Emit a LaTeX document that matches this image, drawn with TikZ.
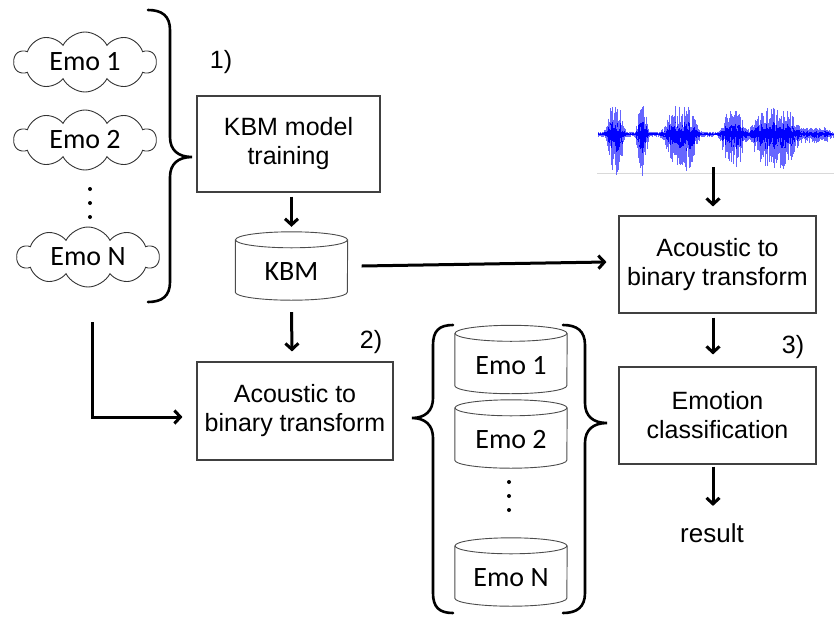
\documentclass[tikz,border=0pt]{standalone}
\usepackage{fontspec}
\setmainfont{Liberation Sans}
\newfontfamily\calib{Carlito}
\usetikzlibrary{arrows.meta,shapes.symbols,calc}

% outline of a database cylinder drawn around a named rectangular node
\newcommand\cylout[1]{%
  \draw[cylline] ($(#1.north west)+(0pt,-8pt)$) -- ($(#1.south west)+(0pt,8pt)$)
    arc[start angle=180, end angle=360, x radius=56pt, y radius=8pt]
    -- ($(#1.north east)+(0pt,-8pt)$);
  \draw[cylline] ($(#1.north)+(0pt,-8pt)$) ellipse[x radius=56pt, y radius=8pt];}

\begin{document}
\begin{tikzpicture}[x=1pt,y=-1pt,
  declare function={bump(\x,\c,\w)=exp(-min(pow(min(abs(\x-\c)/\w,2),4),9));},
  txt/.style={font=\fontsize{25}{29}\selectfont},
  box/.style={txt, draw=black!75, line width=1.1pt, align=center, inner sep=0pt},
  emocloud/.style={cloud, cloud puffs=10, cloud puff arc=125, cloud ignores aspect,
    draw=black!80, line width=0.9pt, minimum width=142pt, minimum height=60pt,
    font=\calib\fontsize{28}{32}\selectfont, inner sep=0pt},
  cylbody/.style={rectangle, minimum width=112pt, minimum height=68pt, inner sep=0pt},
  cylline/.style={draw=black!70, line width=0.9pt},
  cyltext/.style={font=\calib\fontsize{28}{32}\selectfont},
  arr/.style={line width=3pt, -{Straight Barb[length=6pt,width=13pt]}},
  bracket/.style={line width=2.6pt, line cap=round},
  wavelight/.style={draw=blue!60, line width=0.6pt},
  wavecore/.style={draw=blue, line width=0.7pt}]
\useasboundingbox (0,0) rectangle (834,616);

% ---------- emotion clouds ----------
\node[emocloud] (c1) at (85,62) {Emo 1};
\node[emocloud] (c2) at (85,140) {Emo 2};
\node[emocloud] (cN) at (88,257) {Emo N};
\foreach \yy in {189,203,217} \fill (90,\yy) circle[radius=2pt];

% brace gathering the clouds
\draw[bracket] (148,10) .. controls (162,10) and (170,16) .. (170,30) -- (170,137)
  .. controls (170,150) and (178,157) .. (192,157)
  .. controls (178,157) and (170,164) .. (170,177) -- (170,282)
  .. controls (170,296) and (162,302) .. (148,302);

% ---------- step 1 ----------
\node[txt] (n1) at (221,62) {1)};
\node[box, minimum width=183pt, minimum height=96pt] (train) at (288.5,144) {KBM model\\training};
\node[cylbody] (kbm) at (291.5,266) {};
\cylout{kbm}
\node[cyltext] at ($(kbm.center)+(0pt,-6pt)$) {KBM};

% ---------- step 2 ----------
\node[txt] (n2) at (371,342) {2)};
\node[box, minimum width=196pt, minimum height=98pt] (lacou) at (295,411) {Acoustic to\\binary transform};

\node[cylbody] (e1) at (511,359.5) {};
\cylout{e1}
\node[cyltext] at ($(e1.center)+(0pt,-6pt)$) {Emo 1};
\node[cylbody] (e2) at (511,434) {};
\cylout{e2}
\node[cyltext] at ($(e2.center)+(0pt,-6pt)$) {Emo 2};
\foreach \yy in {482,496,510} \fill (509,\yy) circle[radius=2pt];
\node[cylbody] (eN) at (511,572) {};
\cylout{eN}
\node[cyltext] at ($(eN.center)+(0pt,-6pt)$) {Emo N};

% braces around the emotion models
\draw[bracket] (453,325) .. controls (439,325) and (433,331) .. (433,345) -- (433,398)
  .. controls (433,411) and (425,418) .. (412,418)
  .. controls (425,418) and (433,425) .. (433,438) -- (433,593)
  .. controls (433,607) and (439,613) .. (453,613);
\draw[bracket] (563,325) .. controls (577,325) and (585,331) .. (585,345) -- (585,403)
  .. controls (585,416) and (593,423) .. (607,423)
  .. controls (593,423) and (585,430) .. (585,443) -- (585,593)
  .. controls (585,607) and (577,613) .. (563,613);

% ---------- step 3 ----------
% speech waveform
\draw[black!15, line width=0.6pt] (597,173) -- (834,173);
\pgfmathsetseed{11}
\foreach \i in {0,...,472} {
  \pgfmathsetmacro\xx{598+\i*0.5}
  \pgfmathsetmacro\env{2.5+30*bump(\xx,615,8)+29*bump(\xx,642,5)+26*bump(\xx,681,15)
     +22*bump(\xx,733,11)+24*bump(\xx,775,22)+5*bump(\xx,816,14)}
  \pgfmathsetmacro\up{\env*(0.2+0.8*rnd)}
  \pgfmathsetmacro\dn{\env*1.35*(0.2+0.8*rnd)}
  \draw[wavelight] (\xx,134-\up) -- (\xx,134+\dn);
  \draw[wavecore] (\xx,134-0.45*\up) -- (\xx,134+0.45*\dn);
}
\draw[blue, line width=0.9pt] (598,134) -- (834,134);
\coordinate (wave) at (713,167);

\node[box, minimum width=197pt, minimum height=97pt] (racou) at (717.5,264.5) {Acoustic to\\binary transform};
\node[txt] (n3) at (793,347) {3)};
\node[box, minimum width=197pt, minimum height=97pt] (cls) at (717.5,415.5) {Emotion\\classification};
\node[txt, font=\fontsize{26}{30}\selectfont] (res) at (712,533) {result};

% ---------- connectors ----------
\draw[arr] ([xshift=3pt,yshift=-4pt]train.south) -- ([yshift=5pt]kbm.north);
\draw[arr] ([yshift=-12pt]kbm.south) -- ([xshift=-3pt,yshift=10pt]lacou.north);
\draw[arr] ([xshift=14pt]kbm.east) -- ([xshift=-12pt,yshift=2.5pt]racou.west);
\coordinate (lstart) at (92,322);
\draw[arr] (lstart) |- ([xshift=-14pt,yshift=-6pt]lacou.west);
\draw[arr] (wave) -- ([xshift=-4.5pt,yshift=9pt]racou.north);
\draw[arr] ([xshift=-4.5pt,yshift=-4pt]racou.south) -- ([xshift=-4.5pt,yshift=12pt]cls.north);
\draw[arr] ([xshift=-4.5pt,yshift=-2pt]cls.south) -- ([xshift=1pt,yshift=14pt]res.north);
\end{tikzpicture}
\end{document}
